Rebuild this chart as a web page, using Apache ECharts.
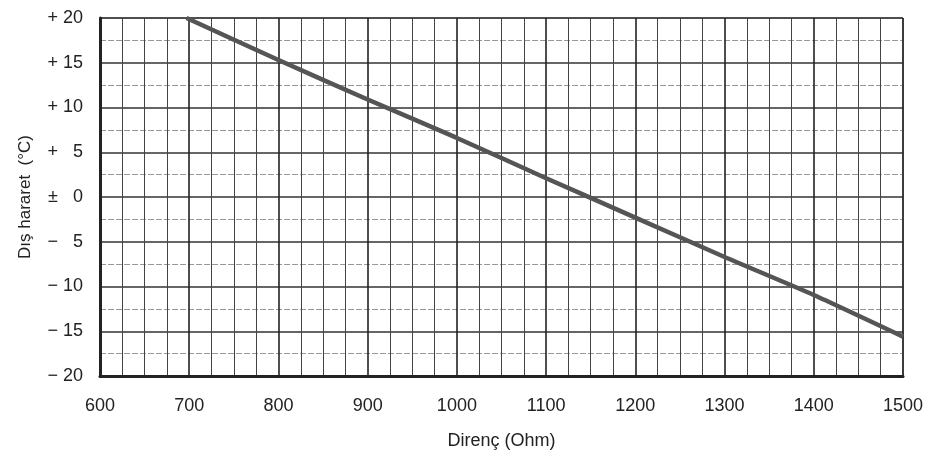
<!DOCTYPE html>
<html>
<head>
<meta charset="utf-8">
<script src="https://cdn.jsdelivr.net/npm/echarts@6/dist/echarts.min.js"></script>
<style>
html, body { margin: 0; padding: 0; background: #fff; }
#main { width: 946px; height: 462px; }
</style>
</head>
<body>
<div id="main"></div>
<script>
// resistance (Ohm) vs outside temperature (°C)
var resistance = [697, 800, 900, 1000, 1100, 1200, 1300, 1400, 1500];
var temperature = [20, 15.3, 10.9, 6.6, 2.1, -2.3, -6.7, -10.95, -15.6];

var yTickValues = [20, 15, 10, 5, 0, -5, -10, -15, -20];
var yTickLabels = ['+ 20', '+ 15', '+ 10', '+   5', '\u00b1   0', '\u2212   5', '\u2212 10', '\u2212 15', '\u2212 20'];

var chart = echarts.init(document.getElementById('main'));

var font = 'Liberation Sans';

var option = {
    animation: false,
    backgroundColor: '#fff',
    grid: {
        left: 100,
        right: 43,
        top: 18,
        bottom: 86,
        show: true,
        borderColor: '#444',
        borderWidth: 1
    },
    xAxis: {
        type: 'value',
        min: 600,
        max: 1500,
        interval: 100,
        name: 'Direnç (Ohm)',
        nameLocation: 'middle',
        nameGap: 56,
        nameTextStyle: { fontFamily: font, fontSize: 18, color: '#222' },
        axisLine: { show: true, onZero: false, lineStyle: { color: '#222', width: 3 } },
        axisTick: { show: false },
        axisLabel: {
            fontFamily: font, fontSize: 18, color: '#222', margin: 21,
            formatter: function (v) { return String(v); }
        },
        splitLine: { show: true, lineStyle: { color: '#222', width: 1.6 } },
        minorTick: { show: false, splitNumber: 4 },
        minorSplitLine: { show: true, lineStyle: { color: '#444', width: 1 } }
    },
    yAxis: {
        type: 'value',
        min: -20,
        max: 20,
        interval: 5,
        name: 'Dış hararet  (°C)',
        nameLocation: 'middle',
        nameGap: 66,
        nameTextStyle: { fontFamily: font, fontSize: 17, color: '#222' },
        axisLine: { show: true, onZero: false, lineStyle: { color: '#222', width: 3 } },
        axisTick: { show: false },
        axisLabel: {
            fontFamily: font, fontSize: 18, color: '#222', margin: 17,
            formatter: function (v) {
                var i = yTickValues.indexOf(v);
                return i >= 0 ? yTickLabels[i] : '';
            }
        },
        splitLine: { show: true, lineStyle: { color: '#333', width: 1.5 } },
        minorTick: { show: false, splitNumber: 2 },
        minorSplitLine: { show: true, lineStyle: { color: '#999', width: 1, type: [6, 2] } }
    },
    series: [
        {
            type: 'line',
            data: resistance.map(function (r, i) { return [r, temperature[i]]; }),
            showSymbol: false,
            symbol: 'none',
            smooth: 0.2,
            lineStyle: { color: '#555', width: 4.5 },
            z: 5
        }
    ]
};
chart.setOption(option);
</script>
</body>
</html>
